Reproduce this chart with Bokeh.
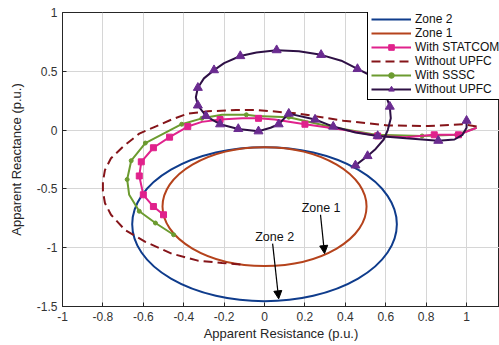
from bokeh.plotting import figure
from bokeh.models import (Range1d, FixedTicker, Legend, LegendItem, Arrow, NormalHead, Label)
from bokeh.embed import file_html
from bokeh.resources import INLINE

# ---------------- data ----------------
x_ticks = [-1, -0.8, -0.6, -0.4, -0.2, 0, 0.2, 0.4, 0.6, 0.8, 1]
x_tick_labels = ["-1", "-0.8", "-0.6", "-0.4", "-0.2", "0", "0.2", "0.4", "0.6", "0.8", "1"]
y_ticks = [-1.5, -1, -0.5, 0, 0.5, 1]
y_tick_labels = ["-1.5", "-1", "-0.5", "0", "0.5", "1"]

# Zone circles: centre (x, y) and radius
zone2_center = (0.0, -0.80)
zone2_radius = 0.655
zone1_center = (0.0, -0.65)
zone1_radius = 0.505

# With STATCOM (line) and its square markers
statcom_x = [1.05, 0.96, 0.84, 0.70, 0.56, 0.40, 0.20, 0.05, -0.03, -0.11, -0.22, -0.31,
             -0.38, -0.47, -0.55, -0.61, -0.62, -0.60, -0.55, -0.50]
statcom_y = [0.02, -0.04, -0.04, -0.06, -0.05, 0.00, 0.05, 0.09, 0.10, 0.10, 0.09, 0.07,
             0.03, -0.06, -0.15, -0.27, -0.39, -0.55, -0.65, -0.72]
statcom_mx = [0.96, 0.84, 0.56, 0.20, -0.03, -0.22, -0.38, -0.47, -0.55, -0.61, -0.62, -0.60, -0.55, -0.50]
statcom_my = [-0.04, -0.04, -0.05, 0.05, 0.10, 0.09, 0.03, -0.06, -0.15, -0.27, -0.39, -0.55, -0.65, -0.72]

# Without UPFC (dashed)
nodev_x = [1.05, 0.98, 0.81, 0.61, 0.39, 0.17, -0.03, -0.14, -0.28, -0.38, -0.46, -0.54,
           -0.62, -0.70, -0.76, -0.79, -0.80, -0.80, -0.79, -0.76, -0.69, -0.59, -0.46,
           -0.33, -0.21, -0.10]
nodev_y = [0.03, 0.05, 0.035, 0.04, 0.08, 0.14, 0.17, 0.17, 0.16, 0.14, 0.09, 0.03,
           -0.03, -0.14, -0.24, -0.34, -0.44, -0.52, -0.62, -0.72, -0.85, -0.95, -1.05,
           -1.11, -1.13, -1.145]

# With SSSC (line) and its dot markers
sssc_x = [1.05, 0.95, 0.78, 0.55, 0.32, 0.12, -0.04, -0.09, -0.21, -0.31, -0.41, -0.50,
          -0.59, -0.66, -0.68, -0.67, -0.62, -0.54, -0.45]
sssc_y = [0.02, -0.04, -0.05, -0.04, 0.03, 0.11, 0.12, 0.13, 0.13, 0.10, 0.05, -0.03,
          -0.11, -0.26, -0.42, -0.55, -0.69, -0.79, -0.89]
sssc_mx = [0.95, 0.78, 0.55, 0.32, 0.12, -0.09, -0.31, -0.41, -0.59, -0.66, -0.68, -0.62, -0.54, -0.45]
sssc_my = [-0.04, -0.05, -0.04, 0.03, 0.11, 0.13, 0.10, 0.05, -0.11, -0.26, -0.42, -0.69, -0.79, -0.89]

# Without UPFC (purple, triangles)
upfc_x = [0.45, 0.51, 0.55, 0.59, 0.61, 0.625, 0.62, 0.60, 0.57, 0.53, 0.46, 0.38, 0.28,
          0.17, 0.06, -0.04, -0.12, -0.20, -0.25, -0.30, -0.33, -0.34, -0.33, -0.29,
          -0.26, -0.22, -0.13, -0.03, 0.03, 0.07, 0.12, 0.25, 0.34, 0.45, 0.56, 0.70,
          0.86, 0.94, 0.98, 1.00, 1.00]
upfc_y = [-0.30, -0.22, -0.16, -0.08, 0.00, 0.10, 0.20, 0.30, 0.40, 0.46, 0.52, 0.59, 0.64,
          0.67, 0.68, 0.66, 0.63, 0.57, 0.51, 0.44, 0.36, 0.28, 0.21, 0.12,
          0.09, 0.05, 0.01, -0.01, 0.02, 0.05, 0.14, 0.09, 0.03, -0.02, -0.05, -0.07,
          -0.09, -0.08, -0.04, 0.02, 0.08]
upfc_mx = [0.45, 0.51, 0.62, 0.46, 0.28, 0.06, -0.12, -0.25, -0.33, -0.33, -0.29, -0.22,
           -0.13, -0.03, 0.07, 0.12, 0.25, 0.34, 0.56, 0.86, 1.00]
upfc_my = [-0.30, -0.22, 0.20, 0.52, 0.64, 0.68, 0.63, 0.51, 0.36, 0.21, 0.12, 0.05,
           0.01, -0.01, 0.05, 0.14, 0.09, 0.03, -0.05, -0.09, 0.08]

legend_labels = ["Zone 2", "Zone 1", "With STATCOM", "Without UPFC", "With SSSC", "Without UPFC"]

# ---------------- styling ----------------
FONT = "Liberation Sans"
C_Z2 = "#0F3C8C"
C_Z1 = "#B5431C"
C_ST = "#E0228C"
C_DASH = "#851419"
C_SS = "#6C9B30"
C_UP = "#2E1045"
C_UPM = "#6A2B90"

p = figure(width=499, height=345, output_backend="svg", toolbar_location=None,
           x_range=Range1d(-1, 1.163), y_range=Range1d(-1.5, 1),
           min_border_left=62, min_border_right=0, min_border_top=12, min_border_bottom=39)
p.background_fill_color = "white"
p.border_fill_color = "white"
p.outline_line_color = "#262626"
p.outline_line_width = 1

for ax, ticks, labels in ((p.xaxis[0], x_ticks, x_tick_labels), (p.yaxis[0], y_ticks, y_tick_labels)):
    ax.ticker = FixedTicker(ticks=ticks)
    ax.major_label_overrides = {t: l for t, l in zip(ticks, labels)}
    ax.major_label_text_font = FONT
    ax.major_label_text_font_size = "12px"
    ax.major_label_text_color = "#333333"
    ax.axis_label_text_font = FONT
    ax.axis_label_text_font_size = "13px"
    ax.axis_label_text_font_style = "normal"
    ax.axis_label_text_color = "#262626"
    ax.axis_line_color = "#262626"
    ax.major_tick_line_color = "#262626"
    ax.major_tick_in = 4
    ax.major_tick_out = 0
    ax.minor_tick_line_color = None

p.xaxis[0].axis_label = "Apparent Resistance (p.u.)"
p.xaxis[0].axis_label_standoff = 2
p.yaxis[0].axis_label = "Apparent Reactance (p.u.)"
p.yaxis[0].axis_label_standoff = 10

p.xgrid.ticker = FixedTicker(ticks=x_ticks)
p.ygrid.ticker = FixedTicker(ticks=y_ticks)
p.grid.grid_line_color = "#d6d6d6"
p.grid.grid_line_width = 1

# Zones
r_z2 = p.ellipse(x=[zone2_center[0]], y=[zone2_center[1]], width=[2 * zone2_radius],
                 height=[2 * zone2_radius], fill_color=None, line_color=C_Z2, line_width=2)
r_z1 = p.ellipse(x=[zone1_center[0]], y=[zone1_center[1]], width=[2 * zone1_radius],
                 height=[2 * zone1_radius], fill_color=None, line_color=C_Z1, line_width=2)
nan = float("nan")
leg_z2 = p.line(x=[nan, nan], y=[nan, nan], line_color=C_Z2, line_width=2)
leg_z1 = p.line(x=[nan, nan], y=[nan, nan], line_color=C_Z1, line_width=2)

# Curves
r_dash = p.line(nodev_x, nodev_y, line_color=C_DASH, line_width=2, line_dash="9 5")
r_ss = p.line(sssc_x, sssc_y, line_color=C_SS, line_width=2)
r_ssm = p.scatter(sssc_mx, sssc_my, marker="circle", size=4, fill_color=C_SS, line_color=C_SS)
r_st = p.line(statcom_x, statcom_y, line_color=C_ST, line_width=2)
r_stm = p.scatter(statcom_mx, statcom_my, marker="square", size=6, fill_color=C_ST, line_color=C_ST)
r_up = p.line(upfc_x, upfc_y, line_color=C_UP, line_width=2)
r_upm = p.scatter(upfc_mx, upfc_my, marker="triangle", size=9, fill_color=C_UPM, line_color=C_UPM)

legend = Legend(items=[
    LegendItem(label=legend_labels[0], renderers=[leg_z2]),
    LegendItem(label=legend_labels[1], renderers=[leg_z1]),
    LegendItem(label=legend_labels[2], renderers=[r_st, r_stm]),
    LegendItem(label=legend_labels[3], renderers=[r_dash]),
    LegendItem(label=legend_labels[4], renderers=[r_ss, r_ssm]),
    LegendItem(label=legend_labels[5], renderers=[r_up, r_upm]),
], location=(305, 206))
legend.label_text_font = FONT
legend.label_text_font_size = "12px"
legend.label_text_color = "#111111"
legend.glyph_width = 40
legend.glyph_height = 14
legend.label_height = 14
legend.label_standoff = 4
legend.spacing = 0
legend.padding = 3
legend.margin = 0
legend.border_line_color = "black"
legend.border_line_width = 1
legend.border_line_alpha = 1
legend.background_fill_color = "white"
legend.background_fill_alpha = 1
p.add_layout(legend, "center")

# Annotations
p.add_layout(Arrow(end=NormalHead(size=8, fill_color="black", line_color="black"),
                   x_start=0.277, y_start=-0.72, x_end=0.297, y_end=-1.05,
                   line_color="black", line_width=1.2))
p.add_layout(Arrow(end=NormalHead(size=8, fill_color="black", line_color="black"),
                   x_start=0.04, y_start=-0.965, x_end=0.07, y_end=-1.435,
                   line_color="black", line_width=1.2))
p.add_layout(Label(x=0.28, y=-0.665, text="Zone 1", text_align="center", text_baseline="middle",
                   text_font=FONT, text_font_size="12.5px", text_color="#111111"))
p.add_layout(Label(x=0.05, y=-0.91, text="Zone 2", text_align="center", text_baseline="middle",
                   text_font=FONT, text_font_size="12.5px", text_color="#111111"))

open("out.html", "w").write(file_html(p, INLINE))
